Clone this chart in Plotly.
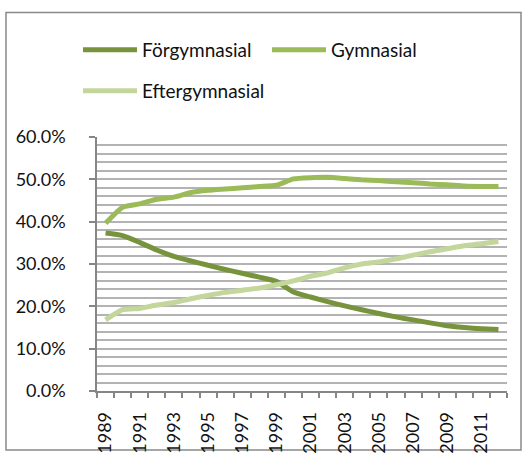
import plotly.graph_objects as go

years = list(range(1989, 2013))
forgym = [37.3, 36.7, 35.1, 33.3, 31.8, 30.7, 29.7, 28.7, 27.8, 26.9, 25.9, 23.4,
          22.2, 21.1, 20.1, 19.2, 18.3, 17.5, 16.8, 16.1, 15.4, 15.0, 14.7, 14.5]
gym = [39.6, 43.4, 44.2, 45.3, 45.8, 46.9, 47.4, 47.7, 48.0, 48.3, 48.6, 50.1,
       50.4, 50.5, 50.2, 49.9, 49.7, 49.4, 49.2, 48.9, 48.7, 48.4, 48.3, 48.3]
efter = [16.8, 19.2, 19.5, 20.3, 20.9, 21.8, 22.6, 23.3, 23.8, 24.3, 25.1, 26.0,
         27.1, 27.9, 29.1, 30.0, 30.5, 31.2, 32.1, 32.9, 33.6, 34.3, 34.8, 35.3]
tick_years = years[::2]
tick_labels = [str(y) for y in tick_years]
y_ticks = [0, 10, 20, 30, 40, 50, 60]

W, H = 532, 457
ML, MR, MT, MB = 97, 25, 137, 66
PW, PH = W - ML - MR, H - MT - MB

FONT = "Lato"
TXT = "#111111"
AXC = "#868686"
GRC = "#b3b3b3"

fig = go.Figure()
series = [("Förgymnasial", forgym, "#77933C", "legend"),
          ("Gymnasial", gym, "#9BBB59", "legend"),
          ("Eftergymnasial", efter, "#C3D69B", "legend2")]
for name, vals, col, lg in series:
    fig.add_trace(go.Scatter(x=years, y=vals, name=name, mode="lines",
                             line=dict(color=col, width=5, shape="spline", smoothing=0.5),
                             legend=lg))

def px_x(p):
    return (p - ML) / PW

def px_y(p):
    return (H - MB - p) / PH

fig.add_shape(type="rect", xref="paper", yref="paper",
              x0=px_x(6), x1=px_x(521), y0=px_y(450), y1=px_y(12.5),
              line=dict(color="#898989", width=1.5), layer="below")

fig.update_layout(
    width=W, height=H,
    margin=dict(l=ML, r=MR, t=MT, b=MB, autoexpand=False),
    paper_bgcolor="white", plot_bgcolor="white",
    font=dict(family=FONT, size=18, color=TXT),
    legend=dict(orientation="h", xref="container", yref="container",
                x=78 / W, y=1 - 50 / H, xanchor="left", yanchor="middle",
                itemwidth=54, entrywidth=120, entrywidthmode="pixels",
                font=dict(family=FONT, size=19, color=TXT), bgcolor="rgba(0,0,0,0)"),
    legend2=dict(orientation="h", xref="container", yref="container",
                 x=78 / W, y=1 - 91 / H, xanchor="left", yanchor="middle",
                 itemwidth=54,
                 font=dict(family=FONT, size=19, color=TXT), bgcolor="rgba(0,0,0,0)"),
    xaxis=dict(range=[1988.5, 2012.5], tickmode="array", tickvals=tick_years,
               ticktext=tick_labels, tickangle=-90, ticks="", showgrid=False,
               zeroline=False, showline=True, linecolor=AXC, linewidth=1.5,
               ticklabelstandoff=12, automargin=False,
               tickfont=dict(family=FONT, size=18, color=TXT),
               minor=dict(tick0=1988.5, dtick=1, ticks="outside", ticklen=5,
                          tickcolor=AXC, tickwidth=1.5, showgrid=False)),
    yaxis=dict(range=[0, 60], tickmode="array", tickvals=y_ticks,
               ticktext=[f"{v:.1f}%" for v in y_ticks],
               ticks="outside", ticklen=6, tickcolor=AXC, tickwidth=1.5,
               showline=True, linecolor=AXC, linewidth=1.5, zeroline=False,
               showgrid=True, gridcolor=GRC, gridwidth=1.5,
               ticklabelstandoff=20, automargin=False,
               tickfont=dict(family=FONT, size=18, color=TXT),
               minor=dict(tickmode="linear", tick0=0, dtick=2, showgrid=True,
                          gridcolor=GRC, gridwidth=1.5, ticks="")),
)

fig.write_html("out.html", config={"displayModeBar": False},
               post_script="document.body.style.margin='0px';document.body.style.overflow='hidden';")
